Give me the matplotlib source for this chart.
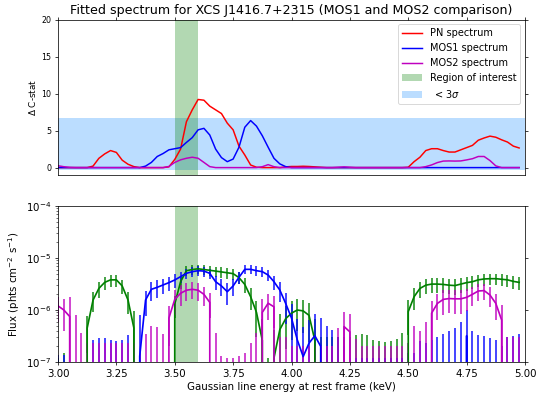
import numpy as np
import matplotlib
matplotlib.use("Agg")
import matplotlib.pyplot as plt
from matplotlib.patches import Patch
from matplotlib.lines import Line2D

# ---------------- data ----------------
energy = [3.0 + 0.025 * k for k in range(80)]

# Delta C-stat (top panel)
pn_cstat = [0, 0, 0, 0, 0, 0, 0.2, 1.25, 1.85, 2.3,
            2.05, 1.0, 0.45, 0.13, 0, 0, 0, 0, 0, 0.1,
            1.1, 2.5, 6.2, 7.8, 9.2, 9.1, 8.3, 7.8, 7.3, 6.0,
            5.1, 2.9, 1.7, 0.35, 0.05, 0, 0, 0, 0, 0.1,
            0.15, 0.15, 0.18, 0.15, 0.1, 0.05, 0, 0, 0, 0,
            0, 0, 0, 0, 0, 0, 0, 0, 0, 0,
            0.05, 0.8, 1.4, 2.3, 2.55, 2.55, 2.3, 2.1, 2.1, 2.4,
            2.7, 3.0, 3.7, 4.0, 4.25, 4.1, 3.75, 3.45, 2.9, 2.65]
mos1_cstat = [0, 0, 0, 0, 0, 0, 0, 0, 0, 0,
              0, 0, 0, 0, 0, 0.2, 0.7, 1.5, 1.9, 2.4,
              2.55, 2.7, 3.4, 4.05, 5.1, 5.3, 4.4, 2.5, 1.35, 0.8,
              1.15, 2.75, 5.45, 6.35, 5.6, 4.3, 2.75, 1.25, 0.5, 0.13,
              0, 0, 0, 0, 0, 0, 0, 0, 0, 0,
              0, 0, 0, 0, 0, 0, 0, 0, 0, 0,
              0, 0, 0, 0, 0, 0, 0, 0, 0, 0,
              0, 0, 0, 0, 0, 0, 0, 0, 0, 0]
mos2_cstat = [0.25, 0.12, 0.03, 0, 0, 0, 0, 0, 0, 0,
              0, 0, 0, 0, 0, 0, 0, 0, 0, 0.15,
              0.7, 1.05, 1.26, 1.4, 1.26, 0.7, 0.13, 0, 0, 0,
              0, 0, 0, 0, 0, 0.12, 0.4, 0.12, 0, 0,
              0, 0, 0, 0, 0, 0, 0, 0, 0.05, 0.1,
              0.05, 0, 0, 0, 0, 0, 0, 0, 0, 0,
              0, 0, 0, 0.13, 0.36, 0.68, 0.88, 0.9, 0.88, 0.9,
              1.04, 1.2, 1.5, 1.5, 0.95, 0.23, 0, 0, 0, 0]

# Line flux (bottom panel), phts cm^-2 s^-1
pn_flux = [0, 0, 0, 0, 0, 4.5e-7, 1.55e-6, 2.6e-6, 3.4e-6, 3.8e-6,
           3.8e-6, 2.9e-6, 1.55e-6, 4.5e-7, 0, 0, 0, 0, 0, 0,
           1.3e-6, 3.5e-6, 5.7e-6, 6.0e-6, 6.2e-6, 6.0e-6, 5.8e-6, 5.6e-6, 5.4e-6, 5.2e-6,
           5.0e-6, 4.2e-6, 3.1e-6, 1.8e-6, 9e-7, 2.6e-7, 0, 1.2e-7, 4.2e-7, 6.8e-7,
           8.7e-7, 1.0e-6, 9.6e-7, 7.9e-7, 2.6e-7, 0, 0, 0, 0, 0,
           0, 0, 0, 0, 0, 0, 0, 0, 0, 0,
           9.3e-7, 1.8e-6, 2.6e-6, 3.0e-6, 3.15e-6, 3.15e-6, 3.1e-6, 3.0e-6, 2.95e-6, 3.15e-6,
           3.36e-6, 3.5e-6, 3.8e-6, 3.95e-6, 4.0e-6, 4.0e-6, 3.9e-6, 3.8e-6, 3.55e-6, 3.4e-6]
pn_err = [1.2e-7, 1.5e-7, 1e-7, 1e-7, 1e-7, 3e-7, 6.5e-7, 9e-7, 1e-6, 1e-6,
          1e-6, 9e-7, 7e-7, 5e-7, 1e-7, 1e-7, 1e-7, 1e-7, 1e-7, 1e-7,
          6e-7, 1e-6, 1.2e-6, 1.2e-6, 1.2e-6, 1.2e-6, 1.2e-6, 1.2e-6, 1.2e-6, 1.2e-6,
          1.2e-6, 1.1e-6, 1e-6, 8e-7, 6e-7, 4e-7, 1.2e-7, 3e-7, 4e-7, 5e-7,
          6e-7, 6e-7, 6e-7, 5.5e-7, 4e-7, 3e-7, 3e-7, 3e-7, 3e-7, 3e-7,
          3e-7, 3.3e-7, 3.4e-7, 3.3e-7, 2.7e-7, 2.5e-7, 2.45e-7, 2.5e-7, 2.8e-7, 3.6e-7,
          6e-7, 8e-7, 9e-7, 1e-6, 1e-6, 1e-6, 1e-6, 1e-6, 1e-6, 1e-6,
          1e-6, 1e-6, 1e-6, 1e-6, 1e-6, 1e-6, 1e-6, 1e-6, 1e-6, 1e-6]
mos1_flux = [0, 0, 0, 0, 0, 0, 0, 0, 0, 0,
             0, 0, 0, 0, 1.3e-7, 1.56e-6, 2.5e-6, 2.73e-6, 3.03e-6, 3.36e-6,
             3.78e-6, 4.38e-6, 5.07e-6, 5.46e-6, 5.7e-6, 5.6e-6, 5.07e-6, 3.5e-6, 2.9e-6, 2.25e-6,
             2.9e-6, 4.25e-6, 6.05e-6, 6.05e-6, 5.7e-6, 5.46e-6, 4.7e-6, 3.5e-6, 2.42e-6, 1.34e-6,
             7e-7, 2.65e-7, 1.27e-7, 2.3e-7, 3.2e-7, 2.0e-7, 0, 0, 0, 0,
             0, 0, 0, 0, 0, 0, 0, 0, 0, 0,
             0, 0, 0, 0, 0, 0, 0, 0, 0, 0,
             3.2e-7, 0, 0, 0, 0, 0, 0, 0, 0, 0]
mos1_err = [1.35e-7, 1.35e-7, 1e-7, 1e-7, 1e-7, 1e-7, 2.65e-7, 2.9e-7, 2.9e-7, 2.65e-7,
            2.5e-7, 2.65e-7, 3.3e-7, 1e-7, 6.7e-7, 8e-7, 1e-6, 1e-6, 1e-6, 1e-6,
            1.1e-6, 1.1e-6, 1.2e-6, 1.2e-6, 1.2e-6, 1.2e-6, 1.2e-6, 1.1e-6, 1e-6, 1e-6,
            1e-6, 1.1e-6, 1.2e-6, 1.2e-6, 1.2e-6, 1.2e-6, 1.1e-6, 1.1e-6, 1e-6, 8e-7,
            6e-7, 4e-7, 3.5e-7, 4e-7, 5e-7, 5e-7, 4.9e-7, 4.2e-7, 3e-7, 2e-7,
            1.2e-7, 1.2e-7, 1.2e-7, 1.2e-7, 1.2e-7, 1.2e-7, 1.2e-7, 1.2e-7, 1.2e-7, 1.2e-7,
            1.5e-7, 1.5e-7, 2.5e-7, 2.3e-7, 2.65e-7, 3.0e-7, 3.4e-7, 3.9e-7, 4.5e-7, 6e-7,
            7e-7, 4e-7, 3.3e-7, 3.1e-7, 2.9e-7, 2.7e-7, 2e-7, 3e-7, 3.2e-7, 3.4e-7]
mos2_flux = [1.2e-6, 1.0e-6, 7.5e-7, 0, 0, 0, 0, 0, 0, 0,
             0, 0, 0, 0, 0, 0, 0, 0, 0, 7e-7,
             1.6e-6, 2.1e-6, 2.4e-6, 2.5e-6, 2.4e-6, 2.0e-6, 1.4e-6, 0, 0, 0,
             0, 0, 0, 0, 0, 9e-7, 1.35e-6, 1.15e-6, 0, 0,
             0, 0, 0, 0, 0, 0, 0, 0, 0, 4.8e-7,
             3.8e-7, 0, 0, 0, 0, 0, 0, 0, 0, 0,
             0, 0, 0, 0, 8.7e-7, 1.34e-6, 1.6e-6, 1.66e-6, 1.64e-6, 1.64e-6,
             1.75e-6, 2.0e-6, 2.32e-6, 2.36e-6, 1.94e-6, 1.34e-6, 6.4e-7, 0, 0, 0]
mos2_err = [6e-7, 6e-7, 1.0e-6, 8e-7, 3.6e-7, 2.3e-7, 2.3e-7, 2.3e-7, 2.3e-7, 2.3e-7,
            2.3e-7, 2.3e-7, 2.3e-7, 2.3e-7, 1.5e-7, 3.5e-7, 4.9e-7, 4.7e-7, 3.5e-7, 5e-7,
            8e-7, 9e-7, 9e-7, 9e-7, 9e-7, 8e-7, 7e-7, 3.6e-7, 1.3e-7, 1.2e-7,
            1.2e-7, 1.3e-7, 1.5e-7, 2.3e-7, 3.6e-7, 7e-7, 7e-7, 7e-7, 3e-7, 3e-7,
            2e-7, 2e-7, 2e-7, 2e-7, 2e-7, 2e-7, 2e-7, 2e-7, 4.5e-7, 4.5e-7,
            4.5e-7, 2.8e-7, 2e-7, 2e-7, 2e-7, 2e-7, 2e-7, 2e-7, 2e-7, 2e-7,
            2.3e-7, 5e-7, 4e-7, 6e-7, 6e-7, 7e-7, 8e-7, 8e-7, 8e-7, 8e-7,
            8e-7, 8e-7, 8e-7, 8e-7, 8e-7, 7e-7, 6e-7, 3e-7, 3e-7, 3e-7]

region = [3.5, 3.6]
sigma3_level = 6.7

title = "Fitted spectrum for XCS J1416.7+2315 (MOS1 and MOS2 comparison)"
labels = ["PN spectrum", "MOS1 spectrum", "MOS2 spectrum", "Region of interest", r" $<3\sigma$"]

# ---------------- figure ----------------
fig = plt.figure(figsize=(536 / 67, 401 / 67), dpi=67)
ax1 = fig.add_axes([58 / 536, 1 - 175 / 401, 467 / 536, 155.5 / 401])
ax2 = fig.add_axes([58 / 536, 1 - 362 / 401, 467 / 536, 156 / 401])

# top panel
ax1.axhspan(-0.3, sigma3_level, color="dodgerblue", alpha=0.3, lw=0)
ax1.axvspan(region[0], region[1], color="green", alpha=0.3, lw=0)
ax1.plot(energy, pn_cstat, color="r", lw=1.6)
ax1.plot(energy, mos1_cstat, color="b", lw=1.6)
ax1.plot(energy, mos2_cstat, color="m", lw=1.6)
ax1.set_xlim(3.0, 5.0)
ax1.set_ylim(-1, 20)
ax1.set_yticks([0, 5, 10, 15, 20])
ax1.set_xticks(np.arange(3.0, 5.01, 0.25))
ax1.tick_params(axis="x", bottom=False, top=True, labelbottom=False, labeltop=False)
ax1.tick_params(axis="y", right=True, labelsize=8.5)
ax1.set_ylabel(r"$\Delta$ C-stat", fontsize=9.5)
ax1.set_title(title, fontsize=13.5)

handles = [Line2D([], [], color="r", lw=1.6), Line2D([], [], color="b", lw=1.6),
           Line2D([], [], color="m", lw=1.6),
           Patch(facecolor="green", alpha=0.3), Patch(facecolor="dodgerblue", alpha=0.3)]
ax1.legend(handles, labels, loc="upper right", fontsize=10.5)

# bottom panel
ax2.set_yscale("log")
ax2.axvspan(region[0], region[1], color="green", alpha=0.3, lw=0)
for fl, er, c in [(pn_flux, pn_err, "green"), (mos1_flux, mos1_err, "b"), (mos2_flux, mos2_err, "m")]:
    cont = ax2.errorbar(energy, fl, yerr=er, color=c, lw=1.8, elinewidth=1.8)
    for bl in cont[2]:
        bl.set_alpha(0.85)
ax2.set_xlim(3.0, 5.0)
ax2.set_ylim(1e-7, 1e-4)
ax2.set_xticks(np.arange(3.0, 5.01, 0.25))
ax2.tick_params(axis="both", which="major", labelsize=11)
ax2.tick_params(axis="y", which="major", right=True)
ax2.set_xlabel("Gaussian line energy at rest frame (keV)", fontsize=11)
ax2.set_ylabel(r"Flux (phts cm$^{-2}$ s$^{-1}$)", fontsize=11)

fig.savefig("out.png", dpi=67)
